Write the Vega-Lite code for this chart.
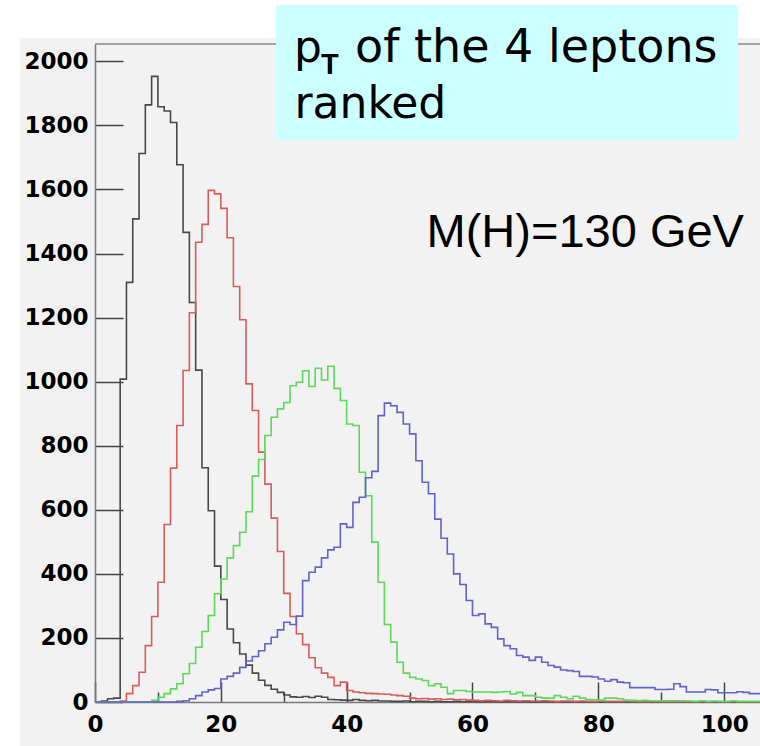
{
  "$schema": "https://vega.github.io/schema/vega-lite/v6.json",
  "autosize": "none",
  "padding": {"left": 95, "top": 44, "right": 0, "bottom": 44},
  "width": 665,
  "height": 658,
  "background": "#f2f2f2",
  "config": {"view": {"stroke": null, "fill": "#f2f2f2"}},
  "datasets": {
    "one": [{"k": 1}],
    "hist": [
{"s":"b","x":0,"n":0},{"s":"b","x":1,"n":3},{"s":"b","x":2,"n":10},{"s":"b","x":3,"n":12},{"s":"b","x":4,"n":1008},{"s":"b","x":5,"n":1310},{"s":"b","x":6,"n":1508},{"s":"b","x":7,"n":1712},{"s":"b","x":8,"n":1864},{"s":"b","x":9,"n":1953},{"s":"b","x":10,"n":1858},{"s":"b","x":11,"n":1845},{"s":"b","x":12,"n":1809},{"s":"b","x":13,"n":1677},{"s":"b","x":14,"n":1466},{"s":"b","x":15,"n":1247},{"s":"b","x":16,"n":1036},{"s":"b","x":17,"n":731},{"s":"b","x":18,"n":597},{"s":"b","x":19,"n":424},{"s":"b","x":20,"n":320},{"s":"b","x":21,"n":228},{"s":"b","x":22,"n":185},{"s":"b","x":23,"n":150},{"s":"b","x":24,"n":115},{"s":"b","x":25,"n":90},{"s":"b","x":26,"n":68},{"s":"b","x":27,"n":52},{"s":"b","x":28,"n":40},{"s":"b","x":29,"n":30},{"s":"b","x":30,"n":22},{"s":"b","x":31,"n":16},{"s":"b","x":32,"n":15},{"s":"b","x":33,"n":17},{"s":"b","x":34,"n":14},{"s":"b","x":35,"n":18},{"s":"b","x":36,"n":15},{"s":"b","x":37,"n":8},{"s":"b","x":38,"n":7},{"s":"b","x":39,"n":6},{"s":"b","x":40,"n":5},{"s":"b","x":41,"n":8},{"s":"b","x":42,"n":5},{"s":"b","x":43,"n":4},{"s":"b","x":44,"n":5},{"s":"b","x":45,"n":3},{"s":"b","x":46,"n":3},{"s":"b","x":47,"n":2},{"s":"b","x":48,"n":2},{"s":"b","x":49,"n":3},{"s":"b","x":50,"n":1},{"s":"b","x":51,"n":2},{"s":"b","x":52,"n":2},{"s":"b","x":53,"n":1},{"s":"b","x":54,"n":2},{"s":"b","x":55,"n":1},{"s":"b","x":56,"n":1},{"s":"b","x":57,"n":2},{"s":"b","x":58,"n":1},{"s":"b","x":59,"n":1},{"s":"b","x":60,"n":1},{"s":"b","x":61,"n":0},{"s":"b","x":62,"n":1},{"s":"b","x":63,"n":1},{"s":"b","x":64,"n":0},{"s":"b","x":65,"n":1},{"s":"b","x":66,"n":1},{"s":"b","x":67,"n":0},{"s":"b","x":68,"n":1},{"s":"b","x":69,"n":0},{"s":"b","x":70,"n":0},{"s":"b","x":71,"n":1},{"s":"b","x":72,"n":0},{"s":"b","x":73,"n":1},{"s":"b","x":74,"n":0},{"s":"b","x":75,"n":0},{"s":"b","x":76,"n":1},{"s":"b","x":77,"n":0},{"s":"b","x":78,"n":0},{"s":"b","x":79,"n":1},{"s":"b","x":80,"n":0},{"s":"b","x":81,"n":0},{"s":"b","x":82,"n":1},{"s":"b","x":83,"n":0},{"s":"b","x":84,"n":0},{"s":"b","x":85,"n":0},{"s":"b","x":86,"n":1},{"s":"b","x":87,"n":0},{"s":"b","x":88,"n":0},{"s":"b","x":89,"n":0},{"s":"b","x":90,"n":0},{"s":"b","x":91,"n":1},{"s":"b","x":92,"n":0},{"s":"b","x":93,"n":0},{"s":"b","x":94,"n":0},{"s":"b","x":95,"n":0},{"s":"b","x":96,"n":0},{"s":"b","x":97,"n":1},{"s":"b","x":98,"n":0},{"s":"b","x":99,"n":0},{"s":"b","x":100,"n":0},{"s":"b","x":101,"n":0},{"s":"b","x":102,"n":0},{"s":"b","x":103,"n":0},{"s":"b","x":104,"n":0},{"s":"b","x":105,"n":0},{"s":"b","x":106,"n":0},
{"s":"r","x":0,"n":0},{"s":"r","x":1,"n":0},{"s":"r","x":2,"n":0},{"s":"r","x":3,"n":0},{"s":"r","x":4,"n":3},{"s":"r","x":5,"n":26},{"s":"r","x":6,"n":51},{"s":"r","x":7,"n":93},{"s":"r","x":8,"n":176},{"s":"r","x":9,"n":267},{"s":"r","x":10,"n":374},{"s":"r","x":11,"n":554},{"s":"r","x":12,"n":730},{"s":"r","x":13,"n":863},{"s":"r","x":14,"n":1035},{"s":"r","x":15,"n":1215},{"s":"r","x":16,"n":1435},{"s":"r","x":17,"n":1491},{"s":"r","x":18,"n":1597},{"s":"r","x":19,"n":1586},{"s":"r","x":20,"n":1541},{"s":"r","x":21,"n":1449},{"s":"r","x":22,"n":1297},{"s":"r","x":23,"n":1193},{"s":"r","x":24,"n":993},{"s":"r","x":25,"n":910},{"s":"r","x":26,"n":780},{"s":"r","x":27,"n":680},{"s":"r","x":28,"n":574},{"s":"r","x":29,"n":470},{"s":"r","x":30,"n":339},{"s":"r","x":31,"n":267},{"s":"r","x":32,"n":213},{"s":"r","x":33,"n":179},{"s":"r","x":34,"n":138},{"s":"r","x":35,"n":107},{"s":"r","x":36,"n":90},{"s":"r","x":37,"n":77},{"s":"r","x":38,"n":51},{"s":"r","x":39,"n":62},{"s":"r","x":40,"n":36},{"s":"r","x":41,"n":31},{"s":"r","x":42,"n":29},{"s":"r","x":43,"n":27},{"s":"r","x":44,"n":26},{"s":"r","x":45,"n":25},{"s":"r","x":46,"n":24},{"s":"r","x":47,"n":22},{"s":"r","x":48,"n":20},{"s":"r","x":49,"n":18},{"s":"r","x":50,"n":12},{"s":"r","x":51,"n":10},{"s":"r","x":52,"n":11},{"s":"r","x":53,"n":9},{"s":"r","x":54,"n":10},{"s":"r","x":55,"n":8},{"s":"r","x":56,"n":9},{"s":"r","x":57,"n":7},{"s":"r","x":58,"n":8},{"s":"r","x":59,"n":6},{"s":"r","x":60,"n":5},{"s":"r","x":61,"n":4},{"s":"r","x":62,"n":5},{"s":"r","x":63,"n":4},{"s":"r","x":64,"n":3},{"s":"r","x":65,"n":5},{"s":"r","x":66,"n":4},{"s":"r","x":67,"n":3},{"s":"r","x":68,"n":4},{"s":"r","x":69,"n":3},{"s":"r","x":70,"n":3},{"s":"r","x":71,"n":4},{"s":"r","x":72,"n":3},{"s":"r","x":73,"n":2},{"s":"r","x":74,"n":3},{"s":"r","x":75,"n":3},{"s":"r","x":76,"n":2},{"s":"r","x":77,"n":3},{"s":"r","x":78,"n":2},{"s":"r","x":79,"n":2},{"s":"r","x":80,"n":3},{"s":"r","x":81,"n":2},{"s":"r","x":82,"n":2},{"s":"r","x":83,"n":2},{"s":"r","x":84,"n":3},{"s":"r","x":85,"n":2},{"s":"r","x":86,"n":2},{"s":"r","x":87,"n":1},{"s":"r","x":88,"n":2},{"s":"r","x":89,"n":2},{"s":"r","x":90,"n":1},{"s":"r","x":91,"n":2},{"s":"r","x":92,"n":1},{"s":"r","x":93,"n":2},{"s":"r","x":94,"n":1},{"s":"r","x":95,"n":1},{"s":"r","x":96,"n":2},{"s":"r","x":97,"n":1},{"s":"r","x":98,"n":1},{"s":"r","x":99,"n":1},{"s":"r","x":100,"n":1},{"s":"r","x":101,"n":2},{"s":"r","x":102,"n":1},{"s":"r","x":103,"n":1},{"s":"r","x":104,"n":1},{"s":"r","x":105,"n":1},{"s":"r","x":106,"n":1},
{"s":"g","x":0,"n":0},{"s":"g","x":1,"n":0},{"s":"g","x":2,"n":0},{"s":"g","x":3,"n":0},{"s":"g","x":4,"n":0},{"s":"g","x":5,"n":0},{"s":"g","x":6,"n":0},{"s":"g","x":7,"n":0},{"s":"g","x":8,"n":0},{"s":"g","x":9,"n":5},{"s":"g","x":10,"n":15},{"s":"g","x":11,"n":26},{"s":"g","x":12,"n":41},{"s":"g","x":13,"n":57},{"s":"g","x":14,"n":88},{"s":"g","x":15,"n":120},{"s":"g","x":16,"n":171},{"s":"g","x":17,"n":220},{"s":"g","x":18,"n":270},{"s":"g","x":19,"n":338},{"s":"g","x":20,"n":384},{"s":"g","x":21,"n":450},{"s":"g","x":22,"n":488},{"s":"g","x":23,"n":530},{"s":"g","x":24,"n":594},{"s":"g","x":25,"n":705},{"s":"g","x":26,"n":757},{"s":"g","x":27,"n":832},{"s":"g","x":28,"n":889},{"s":"g","x":29,"n":915},{"s":"g","x":30,"n":935},{"s":"g","x":31,"n":987},{"s":"g","x":32,"n":998},{"s":"g","x":33,"n":1034},{"s":"g","x":34,"n":985},{"s":"g","x":35,"n":1042},{"s":"g","x":36,"n":1005},{"s":"g","x":37,"n":1048},{"s":"g","x":38,"n":979},{"s":"g","x":39,"n":941},{"s":"g","x":40,"n":868},{"s":"g","x":41,"n":863},{"s":"g","x":42,"n":717},{"s":"g","x":43,"n":644},{"s":"g","x":44,"n":499},{"s":"g","x":45,"n":374},{"s":"g","x":46,"n":242},{"s":"g","x":47,"n":187},{"s":"g","x":48,"n":124},{"s":"g","x":49,"n":90},{"s":"g","x":50,"n":77},{"s":"g","x":51,"n":72},{"s":"g","x":52,"n":67},{"s":"g","x":53,"n":51},{"s":"g","x":54,"n":57},{"s":"g","x":55,"n":46},{"s":"g","x":56,"n":26},{"s":"g","x":57,"n":36},{"s":"g","x":58,"n":36},{"s":"g","x":59,"n":33},{"s":"g","x":60,"n":31},{"s":"g","x":61,"n":31},{"s":"g","x":62,"n":31},{"s":"g","x":63,"n":30},{"s":"g","x":64,"n":31},{"s":"g","x":65,"n":33},{"s":"g","x":66,"n":25},{"s":"g","x":67,"n":30},{"s":"g","x":68,"n":20},{"s":"g","x":69,"n":20},{"s":"g","x":70,"n":15},{"s":"g","x":71,"n":12},{"s":"g","x":72,"n":12},{"s":"g","x":73,"n":20},{"s":"g","x":74,"n":15},{"s":"g","x":75,"n":10},{"s":"g","x":76,"n":18},{"s":"g","x":77,"n":12},{"s":"g","x":78,"n":8},{"s":"g","x":79,"n":7},{"s":"g","x":80,"n":6},{"s":"g","x":81,"n":12},{"s":"g","x":82,"n":12},{"s":"g","x":83,"n":10},{"s":"g","x":84,"n":6},{"s":"g","x":85,"n":5},{"s":"g","x":86,"n":4},{"s":"g","x":87,"n":5},{"s":"g","x":88,"n":4},{"s":"g","x":89,"n":3},{"s":"g","x":90,"n":4},{"s":"g","x":91,"n":3},{"s":"g","x":92,"n":4},{"s":"g","x":93,"n":3},{"s":"g","x":94,"n":3},{"s":"g","x":95,"n":2},{"s":"g","x":96,"n":3},{"s":"g","x":97,"n":2},{"s":"g","x":98,"n":3},{"s":"g","x":99,"n":2},{"s":"g","x":100,"n":2},{"s":"g","x":101,"n":3},{"s":"g","x":102,"n":2},{"s":"g","x":103,"n":2},{"s":"g","x":104,"n":2},{"s":"g","x":105,"n":2},{"s":"g","x":106,"n":2},
{"s":"u","x":0,"n":0},{"s":"u","x":1,"n":0},{"s":"u","x":2,"n":0},{"s":"u","x":3,"n":0},{"s":"u","x":4,"n":0},{"s":"u","x":5,"n":0},{"s":"u","x":6,"n":0},{"s":"u","x":7,"n":0},{"s":"u","x":8,"n":0},{"s":"u","x":9,"n":0},{"s":"u","x":10,"n":0},{"s":"u","x":11,"n":0},{"s":"u","x":12,"n":0},{"s":"u","x":13,"n":2},{"s":"u","x":14,"n":4},{"s":"u","x":15,"n":10},{"s":"u","x":16,"n":20},{"s":"u","x":17,"n":31},{"s":"u","x":18,"n":38},{"s":"u","x":19,"n":42},{"s":"u","x":20,"n":72},{"s":"u","x":21,"n":80},{"s":"u","x":22,"n":90},{"s":"u","x":23,"n":108},{"s":"u","x":24,"n":128},{"s":"u","x":25,"n":142},{"s":"u","x":26,"n":160},{"s":"u","x":27,"n":182},{"s":"u","x":28,"n":202},{"s":"u","x":29,"n":225},{"s":"u","x":30,"n":249},{"s":"u","x":31,"n":242},{"s":"u","x":32,"n":268},{"s":"u","x":33,"n":379},{"s":"u","x":34,"n":405},{"s":"u","x":35,"n":421},{"s":"u","x":36,"n":450},{"s":"u","x":37,"n":475},{"s":"u","x":38,"n":483},{"s":"u","x":39,"n":556},{"s":"u","x":40,"n":545},{"s":"u","x":41,"n":623},{"s":"u","x":42,"n":639},{"s":"u","x":43,"n":700},{"s":"u","x":44,"n":720},{"s":"u","x":45,"n":894},{"s":"u","x":46,"n":933},{"s":"u","x":47,"n":925},{"s":"u","x":48,"n":904},{"s":"u","x":49,"n":868},{"s":"u","x":50,"n":837},{"s":"u","x":51,"n":753},{"s":"u","x":52,"n":686},{"s":"u","x":53,"n":650},{"s":"u","x":54,"n":571},{"s":"u","x":55,"n":511},{"s":"u","x":56,"n":462},{"s":"u","x":57,"n":400},{"s":"u","x":58,"n":367},{"s":"u","x":59,"n":317},{"s":"u","x":60,"n":270},{"s":"u","x":61,"n":275},{"s":"u","x":62,"n":244},{"s":"u","x":63,"n":233},{"s":"u","x":64,"n":197},{"s":"u","x":65,"n":176},{"s":"u","x":66,"n":166},{"s":"u","x":67,"n":145},{"s":"u","x":68,"n":140},{"s":"u","x":69,"n":130},{"s":"u","x":70,"n":140},{"s":"u","x":71,"n":124},{"s":"u","x":72,"n":114},{"s":"u","x":73,"n":109},{"s":"u","x":74,"n":100},{"s":"u","x":75,"n":98},{"s":"u","x":76,"n":95},{"s":"u","x":77,"n":80},{"s":"u","x":78,"n":80},{"s":"u","x":79,"n":78},{"s":"u","x":80,"n":72},{"s":"u","x":81,"n":65},{"s":"u","x":82,"n":70},{"s":"u","x":83,"n":62},{"s":"u","x":84,"n":60},{"s":"u","x":85,"n":45},{"s":"u","x":86,"n":45},{"s":"u","x":87,"n":45},{"s":"u","x":88,"n":45},{"s":"u","x":89,"n":39},{"s":"u","x":90,"n":39},{"s":"u","x":91,"n":40},{"s":"u","x":92,"n":57},{"s":"u","x":93,"n":48},{"s":"u","x":94,"n":31},{"s":"u","x":95,"n":31},{"s":"u","x":96,"n":31},{"s":"u","x":97,"n":39},{"s":"u","x":98,"n":38},{"s":"u","x":99,"n":29},{"s":"u","x":100,"n":29},{"s":"u","x":101,"n":29},{"s":"u","x":102,"n":32},{"s":"u","x":103,"n":30},{"s":"u","x":104,"n":26},{"s":"u","x":105,"n":26},{"s":"u","x":106,"n":26}
    ]
  },
  "layer": [
    {
      "data": {"name": "one"},
      "mark": {"type": "rect", "color": "#ffffff"},
      "encoding": {
        "x": {"datum": -16, "type": "quantitative"},
        "x2": {"datum": 110},
        "y": {"datum": 2073, "type": "quantitative"},
        "y2": {"datum": 2400}
      }
    },
    {
      "data": {"name": "one"},
      "mark": {"type": "rect", "color": "#ffffff"},
      "encoding": {
        "x": {"datum": -16, "type": "quantitative"},
        "x2": {"datum": -11.92},
        "y": {"datum": -200, "type": "quantitative"},
        "y2": {"datum": 2400}
      }
    },
    {
      "data": {"name": "one"},
      "mark": {"type": "rule", "color": "#8a8a8a", "strokeWidth": 1.5},
      "encoding": {
        "y": {"datum": 2054, "type": "quantitative"}
      }
    },
    {
      "data": {"name": "hist"},
      "mark": {"type": "line", "interpolate": "step-after", "strokeWidth": 1.6},
      "encoding": {
        "x": {
          "field": "x", "type": "quantitative",
          "scale": {"domain": [0, 105.7], "nice": false, "zero": false},
          "axis": {
            "orient": "bottom",
            "title": null,
            "grid": false,
            "values": [0,5,10,15,20,25,30,35,40,45,50,55,60,65,70,75,80,85,90,95,100,105],
            "format": "d",
            "labelExpr": "datum.value % 20 === 0 ? datum.label : ''",
            "tickSize": {"condition": {"test": "datum.value % 20 === 0", "value": -20}, "value": -10},
            "tickColor": "#444444",
            "tickWidth": 1.5,
            "domainColor": "#7a7a7a",
            "domainWidth": 1.5,
            "labelFont": "DejaVu Sans",
            "labelFontWeight": "bold",
            "labelFontSize": 23,
            "labelColor": "#000000",
            "labelPadding": 31,
            "labelFlush": false,
            "labelOverlap": false,
            "labelBound": false
          }
        },
        "y": {
          "field": "n", "type": "quantitative",
          "scale": {"domain": [0, 2054], "nice": false, "zero": true},
          "axis": {
            "orient": "left",
            "title": null,
            "grid": false,
            "values": [0,50,100,150,200,250,300,350,400,450,500,550,600,650,700,750,800,850,900,950,1000,1050,1100,1150,1200,1250,1300,1350,1400,1450,1500,1550,1600,1650,1700,1750,1800,1850,1900,1950,2000,2050],
            "format": "d",
            "labelExpr": "datum.value % 200 === 0 ? datum.label : ''",
            "tickSize": {"condition": {"test": "datum.value % 200 === 0", "value": -28}, "value": -14},
            "tickColor": "#444444",
            "tickWidth": 1.5,
            "domainColor": "#7a7a7a",
            "domainWidth": 1.5,
            "labelFont": "DejaVu Sans",
            "labelFontWeight": "bold",
            "labelFontSize": 23,
            "labelColor": "#000000",
            "labelPadding": 35,
            "labelFlush": false,
            "labelOverlap": false,
            "labelBound": false
          }
        },
        "color": {
          "field": "s", "type": "nominal",
          "scale": {"domain": ["b", "r", "g", "u"], "range": ["#484848", "#d85c5c", "#5cd85c", "#6262c8"]},
          "legend": null
        }
      }
    },
    {
      "data": {"name": "one"},
      "mark": {"type": "rect", "color": "#ccffff"},
      "encoding": {
        "x": {"datum": 28.77, "type": "quantitative"},
        "x2": {"datum": 102.21},
        "y": {"datum": 2175.7, "type": "quantitative"},
        "y2": {"datum": 1754.3}
      }
    },
    {
      "data": {"name": "one"},
      "mark": {"type": "text", "text": "p", "font": "DejaVu Sans", "fontSize": 44, "align": "left", "baseline": "alphabetic", "color": "#000000"},
      "encoding": {
        "x": {"datum": 31.63, "type": "quantitative"},
        "y": {"datum": 1997.8, "type": "quantitative"}
      }
    },
    {
      "data": {"name": "one"},
      "mark": {"type": "text", "text": "T", "font": "Liberation Sans", "fontWeight": "bold", "fontSize": 29, "align": "left", "baseline": "alphabetic", "color": "#000000"},
      "encoding": {
        "x": {"datum": 35.92, "type": "quantitative"},
        "y": {"datum": 1960.3, "type": "quantitative"}
      }
    },
    {
      "data": {"name": "one"},
      "mark": {"type": "text", "text": "of the 4 leptons", "font": "DejaVu Sans", "fontSize": 46, "align": "left", "baseline": "alphabetic", "color": "#000000"},
      "encoding": {
        "x": {"datum": 41.33, "type": "quantitative"},
        "y": {"datum": 1997.8, "type": "quantitative"}
      }
    },
    {
      "data": {"name": "one"},
      "mark": {"type": "text", "text": "ranked", "font": "DejaVu Sans", "fontSize": 44, "align": "left", "baseline": "alphabetic", "color": "#000000"},
      "encoding": {
        "x": {"datum": 31.7, "type": "quantitative"},
        "y": {"datum": 1823, "type": "quantitative"}
      }
    },
    {
      "data": {"name": "one"},
      "mark": {"type": "text", "text": "M(H)=130 GeV", "font": "Liberation Sans", "fontSize": 47, "align": "left", "baseline": "alphabetic", "color": "#000000"},
      "encoding": {
        "x": {"datum": 52.7, "type": "quantitative"},
        "y": {"datum": 1420.3, "type": "quantitative"}
      }
    }
  ]
}
